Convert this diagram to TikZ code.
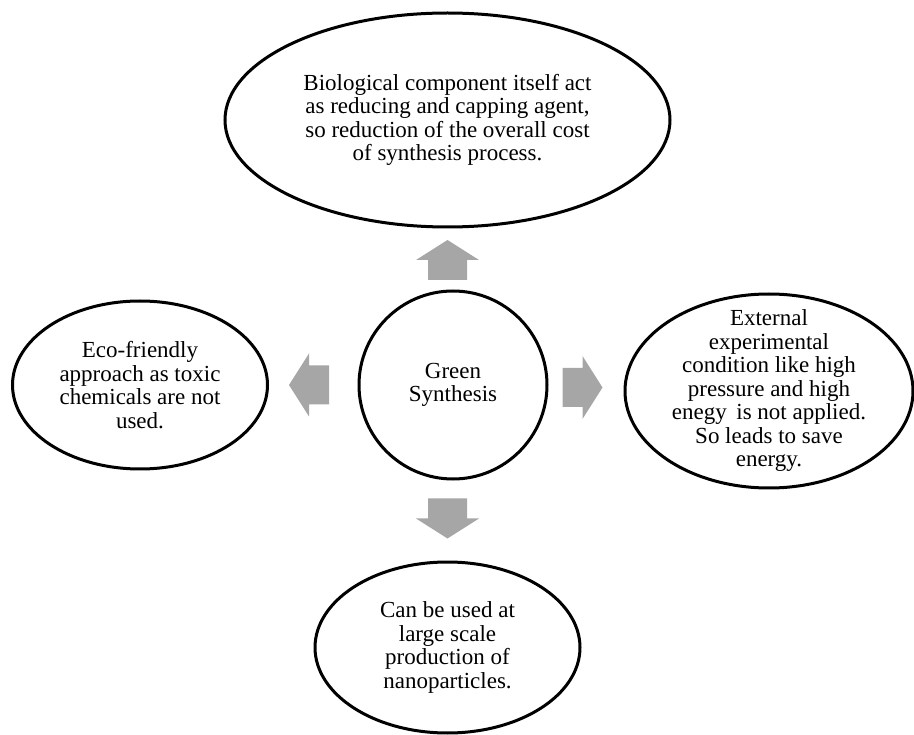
\documentclass[tikz,border=0pt]{standalone}
\usepackage{fontspec}
\setmainfont{Liberation Serif}
\usetikzlibrary{shapes.geometric}
\definecolor{arrowgray}{RGB}{166,166,166}

\begin{document}
\begin{tikzpicture}[x=1pt,y=-1pt,
  bubble/.style={draw=black,line width=3pt,ellipse,inner sep=0pt,fill=white},
  bubbletext/.style={align=center,font=\fontsize{23}{23.5}\selectfont,inner sep=0pt},
  blockarrow/.pic={\fill[arrowgray] (-20,-19.5) -- (0,-19.5) -- (0,-31.5) -- (20,0) -- (0,31.5) -- (0,19.5) -- (-20,19.5) -- cycle;}]
\useasboundingbox (0,0) rectangle (914,735);
\node[bubble,circle,minimum size=188] (green) at (453,385) {};
\node[bubbletext] (greentext) at (green) {Green\\Synthesis};
\node[bubble,minimum width=445,minimum height=214] (cost) at (447.5,120) {};
\node[bubbletext] (costtext) at (cost) {Biological component itself act\\as reducing and capping agent,\\so reduction of the overall cost\\of synthesis process.};
\node[bubble,minimum width=255,minimum height=168] (eco) at (140,385) {};
\node[bubbletext] (ecotext) at (eco) {Eco-friendly\\approach as toxic\\chemicals are not\\used.};
\node[bubble,minimum width=288,minimum height=194] (energy) at (769,391) {};
\node[bubbletext] (energytext) at (energy) {External\\experimental\\condition like high\\pressure and high\\enegy\, is not applied.\\So leads to save\\energy.};
\node[bubble,minimum width=265,minimum height=171] (scale) at (447.5,647.5) {};
\node[bubbletext] (scaletext) at (scale) {Can be used at\\large scale\\production of\\nanoparticles.};
\pic[rotate=90] (uparrow) at (447.5,260) {blockarrow};
\pic[rotate=180] (leftarrow) at (309,385) {blockarrow};
\pic (rightarrow) at (582.5,387.5) {blockarrow};
\pic[rotate=-90] (downarrow) at (447.5,518.5) {blockarrow};
\end{tikzpicture}
\end{document}
